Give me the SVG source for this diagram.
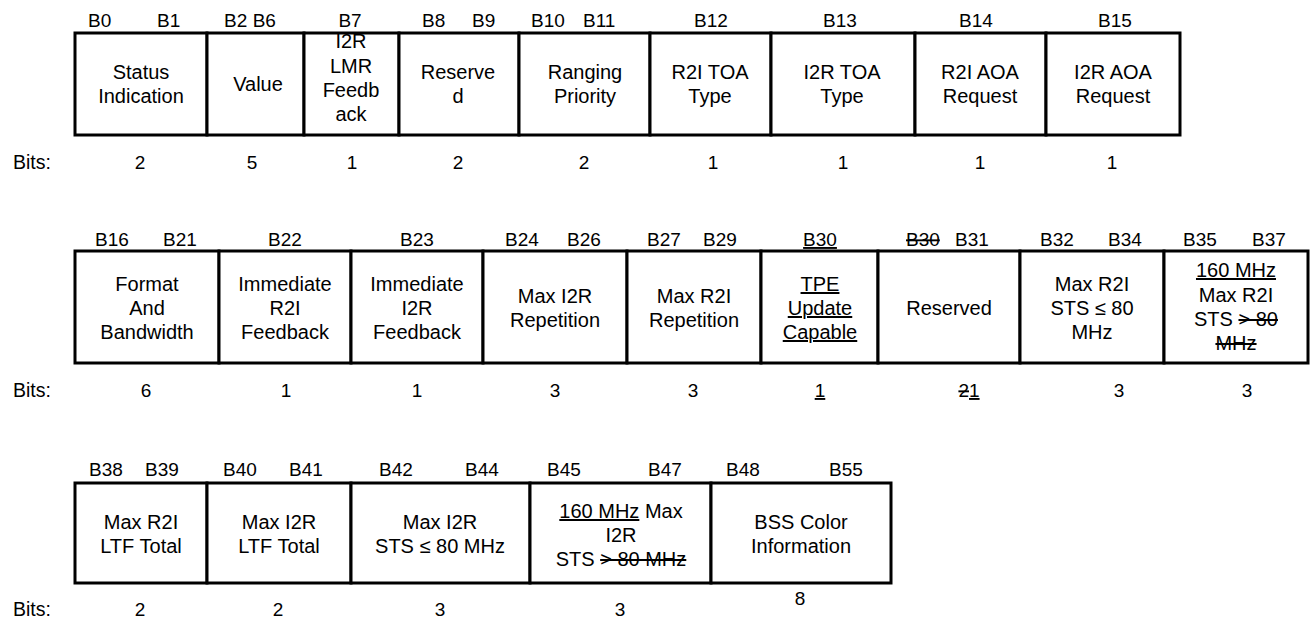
<svg xmlns="http://www.w3.org/2000/svg" width="1316" height="618" viewBox="0 0 1316 618">
<style>
text{font-family:"Liberation Sans",Arial,sans-serif;fill:#000}
.h{font-size:19px}
.l{font-size:19.5px}
.c{font-size:20px;text-anchor:middle}
.m{text-anchor:middle}
.b{font-size:19px;text-anchor:middle}
.u{text-decoration:underline}
.s{text-decoration:line-through}
rect{fill:#fff;stroke:#000;stroke-width:3}
</style>
<rect x="0" y="0" width="1316" height="618" style="stroke:none"/>
<g id="connectors"/>

<!-- Row 1 -->
<g id="row1-headers">
<text class="h" x="88" y="27">B0</text>
<text class="h" x="157" y="27">B1</text>
<text class="h m" x="250" y="27">B2 B6</text>
<text class="h m" x="350" y="27">B7</text>
<text class="h" x="422" y="27">B8</text>
<text class="h" x="472" y="27">B9</text>
<text class="h" x="531" y="27">B10</text>
<text class="h" x="583" y="27">B11</text>
<text class="h m" x="711" y="27">B12</text>
<text class="h m" x="840" y="27">B13</text>
<text class="h m" x="976" y="27">B14</text>
<text class="h m" x="1115" y="27">B15</text>
</g>
<g id="f-status"><rect x="75" y="33" width="132" height="102"/><text class="c"><tspan x="141" y="79">Status</tspan><tspan x="141" y="103">Indication</tspan></text></g>
<g id="f-value"><rect x="207" y="33" width="97" height="102"/><text class="c" x="258" y="91">Value</text></g>
<g id="f-lmr"><rect x="304" y="33" width="95" height="102"/><text class="c"><tspan x="351" y="48">I2R</tspan><tspan x="351" y="72.5">LMR</tspan><tspan x="351" y="97">Feedb</tspan><tspan x="351" y="121">ack</tspan></text></g>
<g id="f-reserved1"><rect x="399" y="33" width="120" height="102"/><text class="c"><tspan x="458" y="79">Reserve</tspan><tspan x="458" y="103">d</tspan></text></g>
<g id="f-priority"><rect x="519" y="33" width="131" height="102"/><text class="c"><tspan x="585" y="79">Ranging</tspan><tspan x="585" y="103">Priority</tspan></text></g>
<g id="f-r2itoa"><rect x="650" y="33" width="121" height="102"/><text class="c"><tspan x="710" y="79">R2I TOA</tspan><tspan x="710" y="103">Type</tspan></text></g>
<g id="f-i2rtoa"><rect x="771" y="33" width="144" height="102"/><text class="c"><tspan x="842" y="79">I2R TOA</tspan><tspan x="842" y="103">Type</tspan></text></g>
<g id="f-r2iaoa"><rect x="915" y="33" width="131" height="102"/><text class="c"><tspan x="980" y="79">R2I AOA</tspan><tspan x="980" y="103">Request</tspan></text></g>
<g id="f-i2raoa"><rect x="1046" y="33" width="134" height="102"/><text class="c"><tspan x="1113" y="79">I2R AOA</tspan><tspan x="1113" y="103">Request</tspan></text></g>
<g id="row1-bits">
<text class="l" x="13" y="169">Bits:</text>
<text class="b" x="140" y="169">2</text>
<text class="b" x="252" y="169">5</text>
<text class="b" x="352" y="169">1</text>
<text class="b" x="458" y="169">2</text>
<text class="b" x="584" y="169">2</text>
<text class="b" x="713" y="169">1</text>
<text class="b" x="843" y="169">1</text>
<text class="b" x="980" y="169">1</text>
<text class="b" x="1112" y="169">1</text>
</g>

<!-- Row 2 -->
<g id="row2-headers">
<text class="h" x="95" y="246">B16</text>
<text class="h" x="163" y="246">B21</text>
<text class="h m" x="285" y="246">B22</text>
<text class="h m" x="417" y="246">B23</text>
<text class="h" x="505" y="246">B24</text>
<text class="h" x="567" y="246">B26</text>
<text class="h" x="647" y="246">B27</text>
<text class="h" x="703" y="246">B29</text>
<text class="h m u" x="820" y="246">B30</text>
<text class="h s" x="906" y="246">B30</text>
<text class="h" x="955" y="246">B31</text>
<text class="h" x="1040" y="246">B32</text>
<text class="h" x="1108" y="246">B34</text>
<text class="h" x="1183" y="246">B35</text>
<text class="h" x="1252" y="246">B37</text>
</g>
<g id="f-format"><rect x="75" y="251" width="144" height="112"/><text class="c"><tspan x="147" y="291">Format</tspan><tspan x="147" y="315">And</tspan><tspan x="147" y="339">Bandwidth</tspan></text></g>
<g id="f-imm-r2i"><rect x="219" y="251" width="132" height="112"/><text class="c"><tspan x="285" y="291">Immediate</tspan><tspan x="285" y="315">R2I</tspan><tspan x="285" y="339">Feedback</tspan></text></g>
<g id="f-imm-i2r"><rect x="351" y="251" width="132" height="112"/><text class="c"><tspan x="417" y="291">Immediate</tspan><tspan x="417" y="315">I2R</tspan><tspan x="417" y="339">Feedback</tspan></text></g>
<g id="f-i2r-rep"><rect x="483" y="251" width="144" height="112"/><text class="c"><tspan x="555" y="303">Max I2R</tspan><tspan x="555" y="327">Repetition</tspan></text></g>
<g id="f-r2i-rep"><rect x="627" y="251" width="134" height="112"/><text class="c"><tspan x="694" y="303">Max R2I</tspan><tspan x="694" y="327">Repetition</tspan></text></g>
<g id="f-tpe"><rect x="761" y="251" width="117" height="112"/><text class="c u"><tspan x="820" y="291">TPE</tspan><tspan x="820" y="315">Update</tspan><tspan x="820" y="339">Capable</tspan></text></g>
<g id="f-reserved2"><rect x="878" y="251" width="142" height="112"/><text class="c" x="949" y="315">Reserved</text></g>
<g id="f-r2i-sts80"><rect x="1020" y="251" width="144" height="112"/><text class="c"><tspan x="1092" y="291">Max R2I</tspan><tspan x="1092" y="315">STS ≤ 80</tspan><tspan x="1092" y="339">MHz</tspan></text></g>
<g id="f-r2i-sts160"><rect x="1164" y="251" width="144" height="112"/><text class="c"><tspan x="1236" y="277" class="u">160 MHz</tspan><tspan x="1236" y="302">Max R2I</tspan><tspan x="1236" y="326">STS <tspan class="s">&gt; 80</tspan></tspan><tspan x="1236" y="350" class="s">MHz</tspan></text></g>
<g id="row2-bits">
<text class="l" x="13" y="397">Bits:</text>
<text class="b" x="146" y="397">6</text>
<text class="b" x="286" y="397">1</text>
<text class="b" x="417" y="397">1</text>
<text class="b" x="555" y="397">3</text>
<text class="b" x="693" y="397">3</text>
<text class="b u" x="820" y="397">1</text>
<text class="b" x="969" y="397"><tspan class="s">2</tspan><tspan class="u">1</tspan></text>
<text class="b" x="1119" y="397">3</text>
<text class="b" x="1247" y="397">3</text>
</g>

<!-- Row 3 -->
<g id="row3-headers">
<text class="h" x="89" y="476">B38</text>
<text class="h" x="145" y="476">B39</text>
<text class="h" x="223" y="476">B40</text>
<text class="h" x="289" y="476">B41</text>
<text class="h" x="379" y="476">B42</text>
<text class="h" x="465" y="476">B44</text>
<text class="h" x="547" y="476">B45</text>
<text class="h" x="648" y="476">B47</text>
<text class="h" x="726" y="476">B48</text>
<text class="h" x="829" y="476">B55</text>
</g>
<g id="f-r2i-ltf"><rect x="75" y="483" width="132" height="100"/><text class="c"><tspan x="141" y="529">Max R2I</tspan><tspan x="141" y="553">LTF Total</tspan></text></g>
<g id="f-i2r-ltf"><rect x="207" y="483" width="144" height="100"/><text class="c"><tspan x="279" y="529">Max I2R</tspan><tspan x="279" y="553">LTF Total</tspan></text></g>
<g id="f-i2r-sts80"><rect x="351" y="483" width="179" height="100"/><text class="c"><tspan x="440" y="529">Max I2R</tspan><tspan x="440" y="553">STS ≤ 80 MHz</tspan></text></g>
<g id="f-i2r-sts160"><rect x="530" y="483" width="181" height="100"/><text class="c"><tspan x="621" y="518"><tspan class="u">160 MHz</tspan> Max</tspan><tspan x="621" y="542">I2R</tspan><tspan x="621" y="566">STS <tspan class="s">&gt; 80 MHz</tspan></tspan></text></g>
<g id="f-bss"><rect x="711" y="483" width="180" height="100"/><text class="c"><tspan x="801" y="529">BSS Color</tspan><tspan x="801" y="553">Information</tspan></text></g>
<g id="row3-bits">
<text class="l" x="13" y="616">Bits:</text>
<text class="b" x="140" y="616">2</text>
<text class="b" x="278" y="616">2</text>
<text class="b" x="440" y="616">3</text>
<text class="b" x="620" y="616">3</text>
<text class="b" x="800" y="605">8</text>
</g>
</svg>
